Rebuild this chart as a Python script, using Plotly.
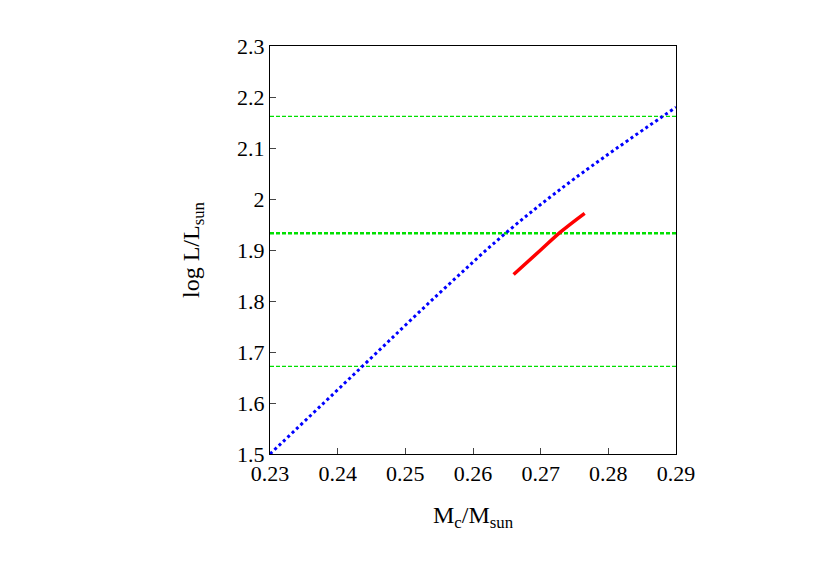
import plotly.graph_objects as go

# blue model track
mc_blue = [0.23, 0.2435, 0.255, 0.265, 0.275, 0.29]
logl_blue = [1.50, 1.67, 1.815, 1.935, 2.04, 2.18]
# red observed track
mc_red = [0.266, 0.270, 0.273, 0.2765]
logl_red = [1.852, 1.900, 1.936, 1.972]
# green reference levels
green_levels = [2.162, 1.933, 1.672]
green_widths = [1.2, 2.5, 1.2]

fig = go.Figure()
for lvl, w in zip(green_levels, green_widths):
    fig.add_trace(go.Scatter(x=[0.23, 0.29], y=[lvl, lvl], mode="lines",
                             line=dict(color="#00e000", width=w, dash="4px,2px"),
                             showlegend=False))
fig.add_trace(go.Scatter(x=mc_blue, y=logl_blue, mode="lines",
                         line=dict(color="#0000ff", width=3, dash="dot", shape="spline"),
                         showlegend=False))
fig.add_trace(go.Scatter(x=mc_red, y=logl_red, mode="lines",
                         line=dict(color="#ff0000", width=3.5, shape="spline"),
                         showlegend=False))

axis = dict(showgrid=False, zeroline=False, showline=True, mirror=True,
            linecolor="black", linewidth=1, ticks="inside", ticklen=6,
            tickfont=dict(size=22), automargin=False)
fig.update_layout(
    width=830, height=581, plot_bgcolor="white", paper_bgcolor="white",
    margin=dict(l=262, r=162, t=38, b=135),
    font=dict(family="Liberation Serif", color="black", size=22),
    xaxis=dict(axis, range=[0.23, 0.29], dtick=0.01, tickformat=".2f",
               title=dict(text="M<sub>c</sub>/M<sub>sun</sub>", font=dict(size=24), standoff=20)),
    yaxis=dict(axis, range=[1.5, 2.3], dtick=0.1,
               title=dict(text="log L/L<sub>sun</sub>", font=dict(size=24), standoff=30)),
)
fig.write_html("out.html")
